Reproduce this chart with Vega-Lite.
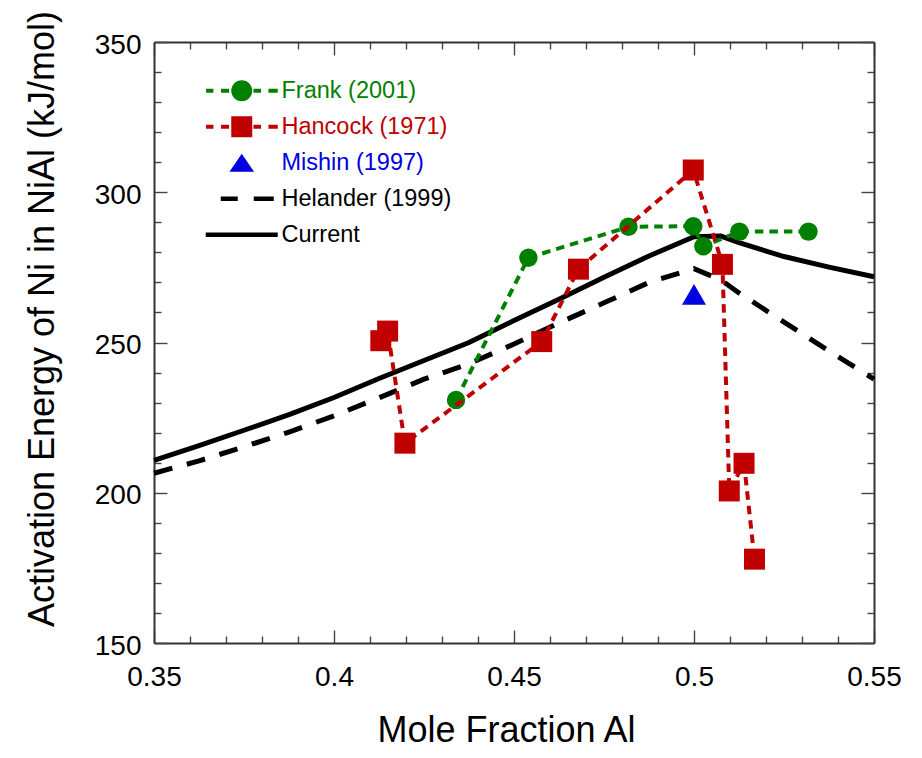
{
  "$schema": "https://vega.github.io/schema/vega-lite/v6.json",
  "width": 720,
  "height": 601,
  "autosize": {"type": "none"},
  "padding": {"left": 154, "top": 42, "right": 48, "bottom": 115},
  "background": "white",
  "config": {
    "view": {"stroke": null},
    "font": "Liberation Sans",
    "axis": {
      "grid": false,
      "domainColor": "#333333",
      "domainWidth": 2,
      "tickColor": "#444444",
      "tickWidth": 1.4,
      "labelColor": "black",
      "labelFont": "Liberation Sans",
      "labelFontSize": 28,
      "labelFlush": false,
      "labelOverlap": false,
      "titleColor": "black",
      "titleFont": "Liberation Sans",
      "titleFontSize": 36,
      "titleFontWeight": "normal"
    }
  },
  "data": {
    "values": [
      {"series": "Helander (1999)", "x": 0.35, "y": 206.5},
      {"series": "Helander (1999)", "x": 0.3625, "y": 210.6},
      {"series": "Helander (1999)", "x": 0.375, "y": 215.3},
      {"series": "Helander (1999)", "x": 0.3875, "y": 220.2},
      {"series": "Helander (1999)", "x": 0.4, "y": 225.6},
      {"series": "Helander (1999)", "x": 0.4125, "y": 231.6},
      {"series": "Helander (1999)", "x": 0.425, "y": 237.8},
      {"series": "Helander (1999)", "x": 0.4375, "y": 242.9},
      {"series": "Helander (1999)", "x": 0.45, "y": 249.5},
      {"series": "Helander (1999)", "x": 0.4625, "y": 256.5},
      {"series": "Helander (1999)", "x": 0.475, "y": 263.2},
      {"series": "Helander (1999)", "x": 0.4875, "y": 270.0},
      {"series": "Helander (1999)", "x": 0.5, "y": 274.6},
      {"series": "Helander (1999)", "x": 0.5075, "y": 270.8},
      {"series": "Helander (1999)", "x": 0.5125, "y": 266.5},
      {"series": "Helander (1999)", "x": 0.525, "y": 256.8},
      {"series": "Helander (1999)", "x": 0.5375, "y": 247.2},
      {"series": "Helander (1999)", "x": 0.55, "y": 237.8},
      {"series": "Current", "x": 0.35, "y": 210.8},
      {"series": "Current", "x": 0.3625, "y": 215.7},
      {"series": "Current", "x": 0.375, "y": 220.8},
      {"series": "Current", "x": 0.3875, "y": 226.0},
      {"series": "Current", "x": 0.4, "y": 231.7},
      {"series": "Current", "x": 0.4125, "y": 238.0},
      {"series": "Current", "x": 0.425, "y": 244.0},
      {"series": "Current", "x": 0.4375, "y": 250.0},
      {"series": "Current", "x": 0.45, "y": 257.3},
      {"series": "Current", "x": 0.4625, "y": 264.4},
      {"series": "Current", "x": 0.475, "y": 271.7},
      {"series": "Current", "x": 0.4875, "y": 278.8},
      {"series": "Current", "x": 0.5, "y": 285.2},
      {"series": "Current", "x": 0.5075, "y": 285.4},
      {"series": "Current", "x": 0.5125, "y": 283.2},
      {"series": "Current", "x": 0.525, "y": 278.6},
      {"series": "Current", "x": 0.5375, "y": 275.1},
      {"series": "Current", "x": 0.55, "y": 271.9},
      {"series": "Frank (2001)", "x": 0.4339, "y": 230.9},
      {"series": "Frank (2001)", "x": 0.454, "y": 278.2},
      {"series": "Frank (2001)", "x": 0.4818, "y": 288.5},
      {"series": "Frank (2001)", "x": 0.4998, "y": 288.7},
      {"series": "Frank (2001)", "x": 0.5026, "y": 282.0},
      {"series": "Frank (2001)", "x": 0.5126, "y": 286.9},
      {"series": "Frank (2001)", "x": 0.5318, "y": 286.9},
      {"series": "Hancock (1971)", "x": 0.413, "y": 250.6},
      {"series": "Hancock (1971)", "x": 0.4149, "y": 253.8},
      {"series": "Hancock (1971)", "x": 0.4197, "y": 216.5},
      {"series": "Hancock (1971)", "x": 0.4577, "y": 250.3},
      {"series": "Hancock (1971)", "x": 0.4679, "y": 274.4},
      {"series": "Hancock (1971)", "x": 0.4998, "y": 307.4},
      {"series": "Hancock (1971)", "x": 0.5079, "y": 276.0},
      {"series": "Hancock (1971)", "x": 0.5098, "y": 200.6},
      {"series": "Hancock (1971)", "x": 0.5139, "y": 209.8},
      {"series": "Hancock (1971)", "x": 0.5168, "y": 177.9},
      {"series": "Mishin (1997)", "x": 0.5, "y": 266}
    ]
  },
  "layer": [
    {
      "transform": [{"filter": "datum.series === 'Helander (1999)'"}],
      "mark": {"type": "line", "color": "black", "strokeWidth": 5, "strokeDash": [19, 15], "strokeCap": "butt"},
      "encoding": {
        "x": {
          "field": "x", "type": "quantitative",
          "scale": {"domain": [0.35, 0.55], "nice": false, "zero": false},
          "axis": {
            "orient": "bottom",
            "values": [0.35, 0.36, 0.37, 0.38, 0.39, 0.4, 0.41, 0.42, 0.43, 0.44, 0.45, 0.46, 0.47, 0.48, 0.49, 0.5, 0.51, 0.52, 0.53, 0.54, 0.55],
            "format": "~g",
            "labelExpr": "abs(datum.value * 20 - round(datum.value * 20)) < 1e-6 ? datum.label : ''",
            "tickSize": {"condition": {"test": "abs(datum.value * 20 - round(datum.value * 20)) < 1e-6", "value": -13}, "value": -7},
            "labelPadding": 33,
            "title": "Mole Fraction Al",
            "titleX": 352,
            "titleY": 98,
            "titleBaseline": "alphabetic",
            "titleAlign": "center"
          }
        },
        "y": {
          "field": "y", "type": "quantitative",
          "scale": {"domain": [150, 350], "nice": false, "zero": false},
          "axis": {
            "orient": "left",
            "values": [150, 160, 170, 180, 190, 200, 210, 220, 230, 240, 250, 260, 270, 280, 290, 300, 310, 320, 330, 340, 350],
            "labelExpr": "datum.value % 50 === 0 ? datum.label : ''",
            "tickSize": {"condition": {"test": "datum.value % 50 === 0", "value": -13}, "value": -7},
            "labelPadding": 26,
            "labelOffset": 3,
            "title": "Activation Energy of Ni in NiAl (kJ/mol)",
            "titleAngle": -90,
            "titleX": -101,
            "titleY": 276.5,
            "titleBaseline": "alphabetic",
            "titleAlign": "center"
          }
        }
      }
    },
    {
      "transform": [{"filter": "datum.series === 'Current'"}],
      "mark": {"type": "line", "color": "black", "strokeWidth": 5},
      "encoding": {
        "x": {
          "field": "x", "type": "quantitative",
          "scale": {"domain": [0.35, 0.55], "nice": false, "zero": false},
          "axis": {
            "orient": "top",
            "values": [0.35, 0.36, 0.37, 0.38, 0.39, 0.4, 0.41, 0.42, 0.43, 0.44, 0.45, 0.46, 0.47, 0.48, 0.49, 0.5, 0.51, 0.52, 0.53, 0.54, 0.55],
            "labels": false,
            "tickSize": {"condition": {"test": "abs(datum.value * 20 - round(datum.value * 20)) < 1e-6", "value": -13}, "value": -7},
            "title": null
          }
        },
        "y": {
          "field": "y", "type": "quantitative",
          "scale": {"domain": [150, 350], "nice": false, "zero": false},
          "axis": {
            "orient": "right",
            "values": [150, 160, 170, 180, 190, 200, 210, 220, 230, 240, 250, 260, 270, 280, 290, 300, 310, 320, 330, 340, 350],
            "labels": false,
            "tickSize": {"condition": {"test": "datum.value % 50 === 0", "value": -13}, "value": -7},
            "title": null
          }
        }
      }
    },
    {
      "transform": [{"filter": "datum.series === 'Frank (2001)'"}],
      "mark": {"type": "line", "color": "#008000", "strokeWidth": 4, "strokeDash": [8.5, 6], "strokeCap": "butt"},
      "encoding": {
        "x": {"field": "x", "type": "quantitative", "scale": {"domain": [0.35, 0.55], "nice": false, "zero": false}, "axis": null},
        "y": {"field": "y", "type": "quantitative", "scale": {"domain": [150, 350], "nice": false, "zero": false}, "axis": null}
      }
    },
    {
      "transform": [{"filter": "datum.series === 'Frank (2001)'"}],
      "mark": {"type": "circle", "color": "#008000", "size": 340, "opacity": 1},
      "encoding": {
        "x": {"field": "x", "type": "quantitative", "scale": {"domain": [0.35, 0.55], "nice": false, "zero": false}, "axis": null},
        "y": {"field": "y", "type": "quantitative", "scale": {"domain": [150, 350], "nice": false, "zero": false}, "axis": null}
      }
    },
    {
      "transform": [{"filter": "datum.series === 'Hancock (1971)'"}],
      "mark": {"type": "line", "color": "#c00000", "strokeWidth": 4, "strokeDash": [8.5, 6], "strokeCap": "butt"},
      "encoding": {
        "x": {"field": "x", "type": "quantitative", "scale": {"domain": [0.35, 0.55], "nice": false, "zero": false}, "axis": null},
        "y": {"field": "y", "type": "quantitative", "scale": {"domain": [150, 350], "nice": false, "zero": false}, "axis": null}
      }
    },
    {
      "transform": [{"filter": "datum.series === 'Hancock (1971)'"}],
      "mark": {"type": "square", "color": "#c00000", "size": 441, "opacity": 1},
      "encoding": {
        "x": {"field": "x", "type": "quantitative", "scale": {"domain": [0.35, 0.55], "nice": false, "zero": false}, "axis": null},
        "y": {"field": "y", "type": "quantitative", "scale": {"domain": [150, 350], "nice": false, "zero": false}, "axis": null}
      }
    },
    {
      "transform": [{"filter": "datum.series === 'Mishin (1997)'"}],
      "mark": {"type": "point", "shape": "triangle-up", "filled": true, "color": "#0000e0", "size": 576, "opacity": 1},
      "encoding": {
        "x": {"field": "x", "type": "quantitative", "scale": {"domain": [0.35, 0.55], "nice": false, "zero": false}, "axis": null},
        "y": {"field": "y", "type": "quantitative", "scale": {"domain": [150, 350], "nice": false, "zero": false}, "axis": null}
      }
    },
    {
      "data": {
        "values": [
          {"series": "Frank (2001)"},
          {"series": "Hancock (1971)"},
          {"series": "Mishin (1997)"},
          {"series": "Helander (1999)"},
          {"series": "Current"}
        ]
      },
      "mark": {"type": "point", "filled": true, "opacity": 1},
      "encoding": {
        "x": {"field": "x", "type": "quantitative", "scale": {"domain": [0.35, 0.55], "nice": false, "zero": false}, "axis": null},
        "y": {"field": "y", "type": "quantitative", "scale": {"domain": [150, 350], "nice": false, "zero": false}, "axis": null},
        "color": {
          "field": "series", "type": "nominal",
          "scale": {
            "domain": ["Frank (2001)", "Hancock (1971)", "Mishin (1997)", "Helander (1999)", "Current"],
            "range": ["#008000", "#c00000", "#0000e0", "black", "black"]
          },
          "legend": {
            "orient": "none", "legendX": 76, "legendY": 37, "title": null, "padding": 0,
            "symbolSize": 400, "symbolStrokeWidth": 0, "symbolOpacity": 1,
            "labelFont": "Liberation Sans", "labelFontSize": 23.5, "labelOffset": 28, "labelLimit": 400,
            "labelColor": {"expr": "datum.value === 'Frank (2001)' ? '#008000' : datum.value === 'Hancock (1971)' ? '#c00000' : datum.value === 'Mishin (1997)' ? '#0000e0' : 'black'"},
            "rowPadding": 11
          }
        },
        "shape": {
          "field": "series", "type": "nominal",
          "scale": {
            "domain": ["Frank (2001)", "Hancock (1971)", "Mishin (1997)", "Helander (1999)", "Current"],
            "range": [
              "M-3.57,-0.2H-2.83V0.2H-3.57Z M-2.07,-0.2H-1.27V0.2H-2.07Z M1.17,-0.2H1.93V0.2H1.17Z M2.67,-0.2H3.6V0.2H2.67Z M-1.05,0A1.05,1.05 0 1,1 1.05,0A1.05,1.05 0 1,1 -1.05,0Z",
              "M-3.57,-0.2H-2.83V0.2H-3.57Z M-2.07,-0.2H-1.27V0.2H-2.07Z M1.17,-0.2H1.93V0.2H1.17Z M2.67,-0.2H3.6V0.2H2.67Z M-1.05,-1.05H1.05V1.05H-1.05Z",
              "M-1.23,0.9L1.23,0.9L0,-0.9Z",
              "M-2.1,-0.22H-0.4V0.22H-2.1Z M1.2,-0.22H3.2V0.22H1.2Z",
              "M-3.6,-0.23H3.6V0.23H-3.6Z"
            ]
          },
          "legend": {
            "orient": "none", "legendX": 76, "legendY": 37, "title": null, "padding": 0,
            "symbolSize": 400, "symbolStrokeWidth": 0, "symbolOpacity": 1,
            "labelFont": "Liberation Sans", "labelFontSize": 23.5, "labelOffset": 28, "labelLimit": 400,
            "labelColor": {"expr": "datum.value === 'Frank (2001)' ? '#008000' : datum.value === 'Hancock (1971)' ? '#c00000' : datum.value === 'Mishin (1997)' ? '#0000e0' : 'black'"},
            "rowPadding": 11
          }
        }
      }
    }
  ],
  "resolve": {"axis": {"x": "independent", "y": "independent"}}
}
